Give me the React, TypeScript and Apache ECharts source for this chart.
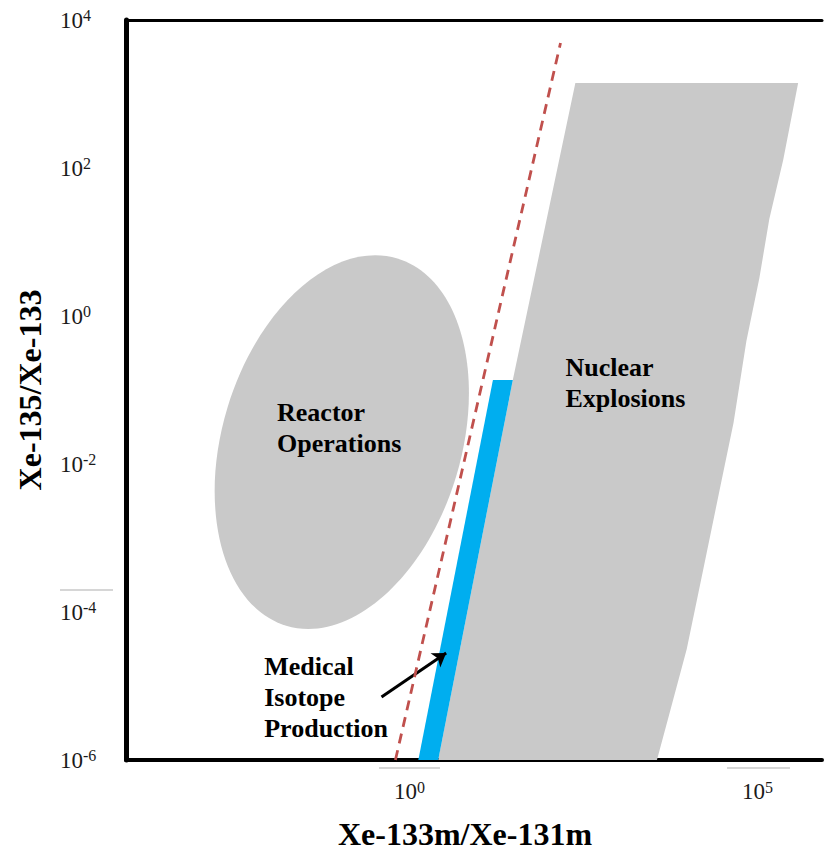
import React, { useEffect, useRef } from "react";
import * as echarts from "echarts";

// ---- data (ratios; axes are decades of log10) ----
const xTickExponents = [0, 5];
const yTickExponents = [-6, -4, -2, 0, 2, 4];

// "Reactor Operations" ellipse: centre, tip of the long axis, tip of the short axis
// [Xe-133m/Xe-131m, Xe-135/Xe-133]
const reactorEllipse: [number, number][] = [
  [0.126, 0.0198],
  [0.794, 6.0],
  [5.5, 6.65e-3],
];

// outline of the "Nuclear Explosions" region
const nuclearOutline: [number, number][] = [
  [286, 1409], [4.54e5, 1409], [2.77e5, 128], [1.75e5, 20.5], [1.26e5, 3.26],
  [8.2e4, 0.459], [5.35e4, 0.0358], [3.38e4, 4.45e-3], [2.0e4, 4.06e-4],
  [1.14e4, 3.16e-5], [6.52e3, 4.45e-6], [4.25e3, 1e-6], [3.06, 1e-6], [36.1, 0.136],
];

// outline of the "Medical Isotope Production" band
const medicalBand: [number, number][] = [
  [1.585, 1e-6], [3.06, 1e-6], [36.1, 0.136], [18.7, 0.136],
];

// dashed discrimination line
const boundaryLine: [number, number][] = [[0.743, 1e-6], [175, 4886]];

// annotation arrow (tail -> head)
const arrowLine: [number, number][] = [[0.469, 7.1e-6], [3.98, 2.79e-5]];

// region labels (anchor = left edge, vertical middle)
const regionLabelTexts = ["Reactor\nOperations", "Nuclear\nExplosions", "Medical\nIsotope\nProduction"];
const regionLabelAnchors: [number, number][] = [[0.0148, 0.0311], [206, 0.124], [0.00968, 7.1e-6]];

const FONT = "'Liberation Serif', 'Times New Roman', serif";
const toLog = (p: [number, number]) => [Math.log10(p[0]), Math.log10(p[1])];

function polygonSeries(name: string, outline: [number, number][], fill: string) {
  const pts = outline.map(toLog);
  return {
    type: "custom",
    name,
    silent: true,
    data: [pts[0]],
    renderItem: (_params: any, api: any) => ({
      type: "polygon",
      shape: { points: pts.map((p) => api.coord(p)) },
      style: { fill, stroke: null },
    }),
  };
}

function ellipseSeries(name: string, def: [number, number][], fill: string) {
  const pts = def.map(toLog);
  return {
    type: "custom",
    name,
    silent: true,
    data: [pts[0]],
    renderItem: (_params: any, api: any) => {
      const c = api.coord(pts[0]);
      const m = api.coord(pts[1]);
      const n = api.coord(pts[2]);
      const ry = Math.hypot(m[0] - c[0], m[1] - c[1]);
      const rx = Math.hypot(n[0] - c[0], n[1] - c[1]);
      const tilt = Math.atan2(m[0] - c[0], c[1] - m[1]);
      return {
        type: "ellipse",
        x: c[0],
        y: c[1],
        rotation: -tilt,
        shape: { cx: 0, cy: 0, rx, ry },
        style: { fill, stroke: null },
      };
    },
  };
}

const supRich = {
  b: { fontSize: 23, lineHeight: 25, fontFamily: FONT, color: "#1a1a1a" },
  s: { fontSize: 16, lineHeight: 18, verticalAlign: "top", fontFamily: FONT, color: "#1a1a1a" },
};

export default function App() {
  const ref = useRef<HTMLDivElement>(null);
  useEffect(() => {
    if (!ref.current) return;
    const chart = echarts.init(ref.current, undefined, { renderer: "svg" });
    const labelPts = regionLabelAnchors.map(toLog);
    chart.setOption({
      animation: false,
      backgroundColor: "#ffffff",
      grid: { left: 126, top: 20, width: 700, height: 740 },
      xAxis: [
        {
          type: "value",
          min: -4,
          max: 6,
          interval: 1,
          name: "Xe-133m/Xe-131m",
          nameLocation: "middle",
          nameGap: 58,
          nameTextStyle: {
            fontFamily: FONT, fontSize: 32, fontWeight: "bold", color: "#000",
            padding: [0, 18, 0, 0],
          },
          axisLine: { show: true, onZero: false, lineStyle: { color: "#000", width: 4 } },
          axisTick: { show: false },
          splitLine: { show: false },
          axisLabel: {
            margin: 19,
            padding: [0, 0, 0, 10],
            rich: supRich,
            formatter: (v: number) => (xTickExponents.includes(v) ? `{b|10}{s|${v}}` : ""),
          },
        },
        {
          type: "value",
          position: "top",
          min: -4,
          max: 6,
          axisLine: { show: true, onZero: false, lineStyle: { color: "#000", width: 3 } },
          axisTick: { show: false },
          axisLabel: { show: false },
          splitLine: { show: false },
        },
      ],
      yAxis: {
        type: "value",
        min: -6,
        max: 4,
        interval: 2,
        name: "Xe-135/Xe-133",
        nameLocation: "middle",
        nameGap: 80,
        nameTextStyle: { fontFamily: FONT, fontSize: 32, fontWeight: "bold", color: "#000" },
        axisLine: { show: true, onZero: false, lineStyle: { color: "#000", width: 5 } },
        axisTick: { show: false },
        splitLine: { show: false },
        axisLabel: {
          align: "left",
          margin: 66,
          rich: supRich,
          formatter: (v: number) => (yTickExponents.includes(v) ? `{b|10}{s|${v}}` : ""),
        },
      },
      series: [
        ellipseSeries("Reactor Operations", reactorEllipse, "#c9c9c9"),
        polygonSeries("Nuclear Explosions", nuclearOutline, "#c9c9c9"),
        polygonSeries("Medical Isotope Production", medicalBand, "#00aeef"),
        {
          type: "line",
          name: "boundary",
          data: boundaryLine.map(toLog),
          symbol: "none",
          silent: true,
          lineStyle: { color: "#c0504d", width: 2.8, type: [10, 7] },
        },
        {
          type: "lines",
          coordinateSystem: "cartesian2d",
          silent: true,
          symbol: ["none", "arrow"],
          symbolSize: 13,
          lineStyle: { color: "#000", width: 3, opacity: 1 },
          data: [{ coords: arrowLine.map(toLog) }],
        },
        {
          type: "custom",
          name: "labels",
          silent: true,
          data: labelPts.map((p, i) => [p[0], p[1], i]),
          renderItem: (params: any, api: any) => {
            const i = params.dataIndex;
            const c = api.coord(labelPts[i]);
            return {
              type: "text",
              x: c[0],
              y: c[1],
              style: {
                text: regionLabelTexts[i],
                fill: "#000",
                font: `bold 26px ${FONT}`,
                lineHeight: 31,
                align: "left",
                verticalAlign: "middle",
              },
            };
          },
        },
      ],
      graphic: [
        { type: "line", silent: true, shape: { x1: 379, y1: 768, x2: 440, y2: 768 }, style: { stroke: "#c8c8c8", lineWidth: 1.5 } },
        { type: "line", silent: true, shape: { x1: 727, y1: 768, x2: 790, y2: 768 }, style: { stroke: "#c8c8c8", lineWidth: 1.5 } },
        { type: "line", silent: true, shape: { x1: 60, y1: 590, x2: 113, y2: 590 }, style: { stroke: "#c8c8c8", lineWidth: 1.5 } },
      ],
    });
    return () => chart.dispose();
  }, []);
  return (
    <div
      ref={ref}
      style={{ position: "fixed", left: 0, top: 0, width: 825, height: 856, background: "#fff" }}
    />
  );
}
